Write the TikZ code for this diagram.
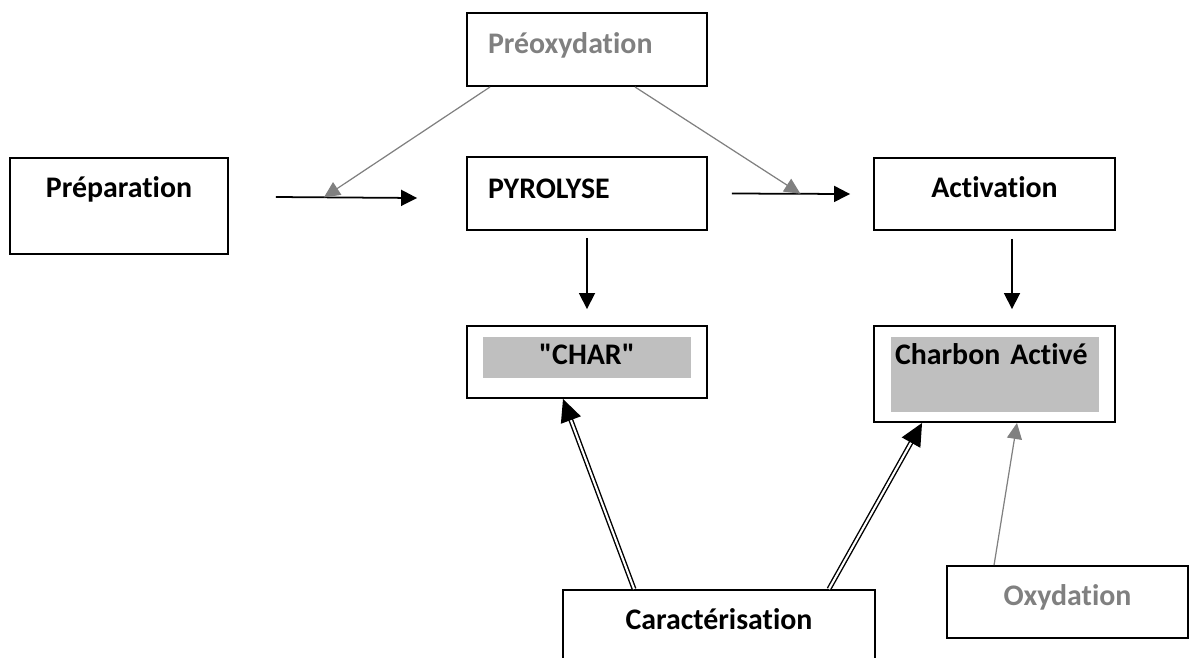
\documentclass[tikz,border=0pt]{standalone}
\usepackage{fontspec}
\setmainfont{Carlito}[Ligatures={NoCommon,TeXOff}]
\usepackage{tikz}
\usetikzlibrary{arrows.meta}

\definecolor{fillgrey}{RGB}{191,191,191}
\definecolor{linegrey}{RGB}{128,128,128}

\tikzset{
	box/.style={draw, line width=1.1pt, inner sep=0pt, text height=0.78cm, font=\bfseries\fontsize{17}{20}\selectfont},
	leftbox/.style={box, inner xsep=0.42cm, align=left},
	arr/.style={-{Triangle[length=0.32cm, width=0.32cm]}, line width=1pt},
	greyarr/.style={-{Triangle[length=0.32cm, width=0.3cm]}, line width=0.7pt, color=linegrey},
	dblarr/.style={-{Triangle[length=0.45cm, width=0.42cm]}, double, double distance=1.2pt, line width=0.8pt},
}

\begin{document}
\begin{tikzpicture}[x=0.02cm, y=-0.02cm]
		\useasboundingbox (0,0) rectangle (1191,657);
		\clip (0,0) rectangle (1191,657);

		% Grey fills
		\fill[fillgrey] (483,337) rectangle (691,378);
		\fill[fillgrey] (891,337) rectangle (1099,412);

		% Boxes
		\node[box, minimum width=4.36cm, text depth=1.14cm] (prep) at (119,206) {Préparation};
		\node[leftbox, text width=3.96cm, text height=0.8cm, text depth=0.66cm, text=linegrey] (preox) at (587,49.5) {Préoxydation};
		\node[leftbox, text width=3.96cm, text height=0.82cm, text depth=0.64cm] (pyro) at (587,193.5) {PYROLYSE};
		\node[box, minimum width=4.82cm, text depth=0.66cm] (activ) at (994.5,194) {Activation};
		\node[box, minimum width=4.8cm, text height=0.76cm, text depth=0.68cm] (char) at (587,362) {"CHAR"};
		\node[leftbox, text width=3.98cm, text height=0.76cm, text depth=1.16cm] (charbon) at (994.5,374) {Charbon Activé};
		\node[box, minimum width=6.24cm, text depth=1.02cm] (carac) at (719,635) {Caractérisation};
		\node[box, minimum width=4.82cm, text depth=0.66cm, text=linegrey] (oxy) at (1067.5,602) {Oxydation};

		% Main line
		\draw[arr] ([xshift=0.94cm]prep.base east) -- coordinate[pos=0.34] (j1) ([xshift=-0.98cm]pyro.base west);
		\draw[arr] ([xshift=0.48cm]pyro.east) -- coordinate[pos=0.58] (j2) ([xshift=-0.46cm]activ.west);
		\draw[arr] ([yshift=-0.14cm]pyro.south) -- ([yshift=0.32cm]char.north);
		\draw[arr] ([xshift=0.35cm, yshift=-0.16cm]activ.south) -- ([xshift=0.35cm, yshift=0.32cm]charbon.north);

		% Preoxydation and oxydation
		\draw[greyarr] ([xshift=0.48cm]preox.south west) -- (j1);
		\draw[greyarr] ([xshift=0.96cm]preox.south) -- (j2);
		\draw[greyarr] ([xshift=0.96cm]oxy.north west) -- ([xshift=0.45cm]charbon.south);

		% Characterisation
		\draw[dblarr] ([xshift=1.44cm]carac.north west) -- ([xshift=-0.48cm]char.south);
		\draw[dblarr] ([xshift=-0.94cm]carac.north east) -- ([xshift=0.98cm]charbon.south west);
	\end{tikzpicture}
\end{document}
